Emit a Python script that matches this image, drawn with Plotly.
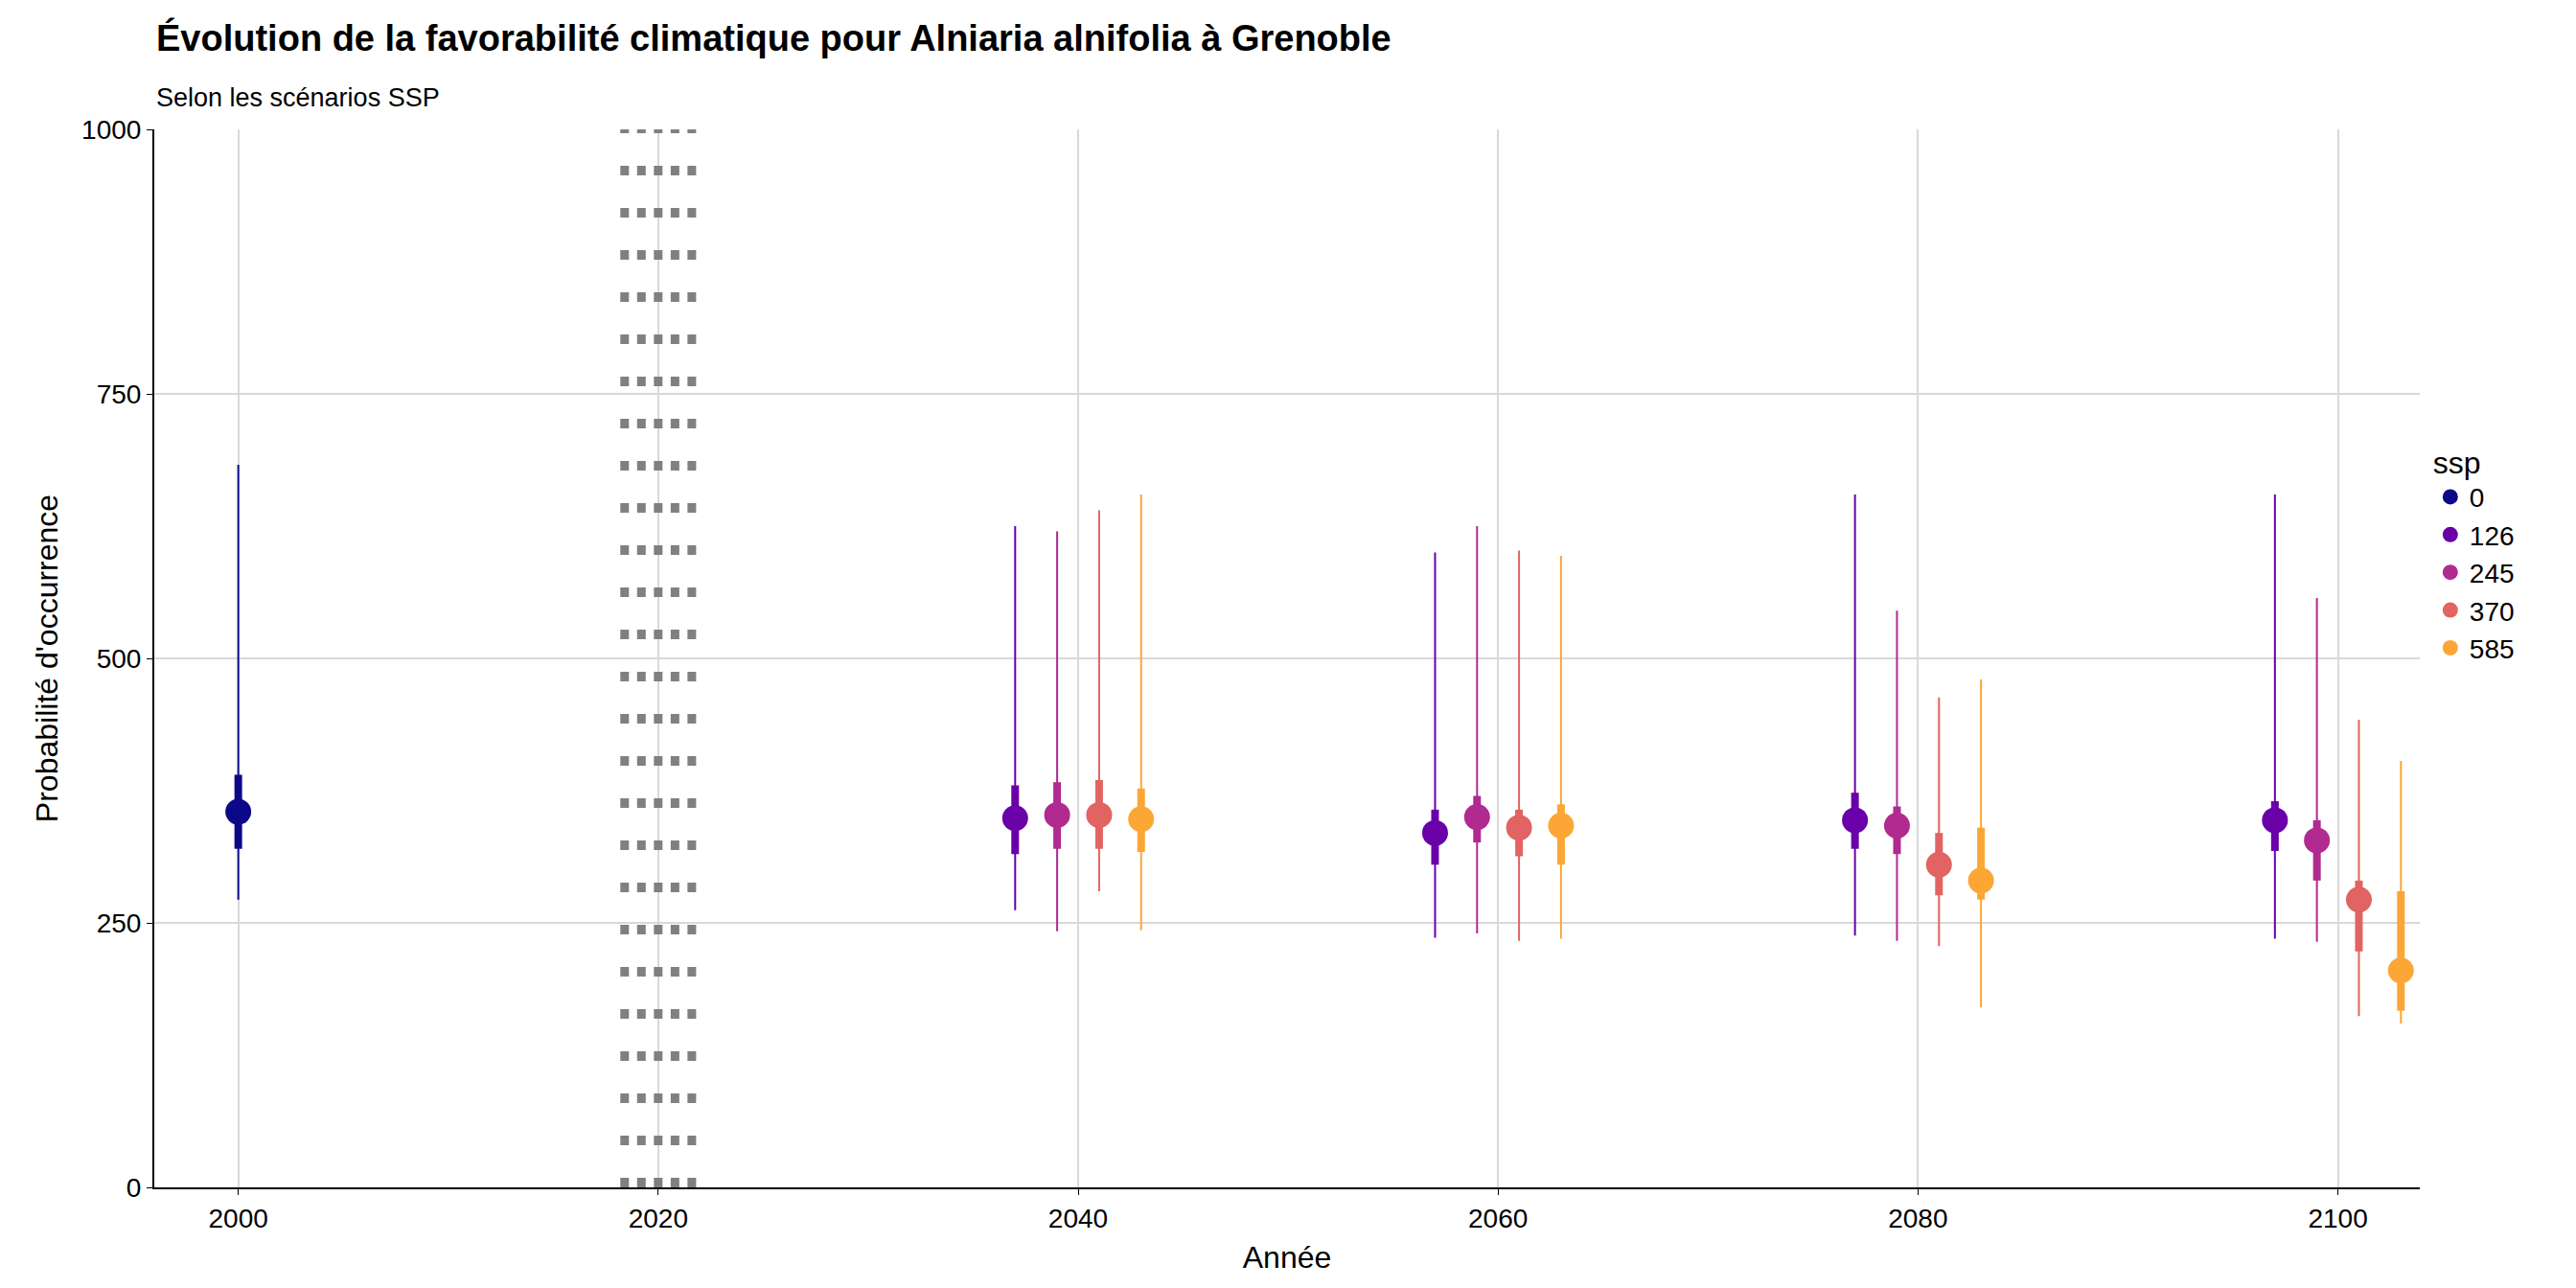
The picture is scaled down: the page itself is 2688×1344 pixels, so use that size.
import plotly.graph_objects as go

# scénarios et années
ssp_list = ["0", "126", "245", "370", "585"]
colors = ["#0D0887", "#6A00A8", "#B12A90", "#E16462", "#FCA636"]
years = {
    "0": [2000],
    "126": [2040, 2060, 2080, 2100],
    "245": [2040, 2060, 2080, 2100],
    "370": [2040, 2060, 2080, 2100],
    "585": [2040, 2060, 2080, 2100],
}
# décalage horizontal (dodge) par scénario
dodge = {"0": 0, "126": -3, "245": -1, "370": 1, "585": 3}

median = {
    "0": [355],
    "126": [349, 335, 347, 347],
    "245": [352, 350, 342, 328],
    "370": [352, 340, 305, 272],
    "585": [348, 342, 290, 205],
}
inner_lo = {
    "0": [320],
    "126": [315, 305, 320, 318],
    "245": [320, 326, 315, 290],
    "370": [320, 313, 276, 223],
    "585": [317, 305, 272, 167],
}
inner_hi = {
    "0": [390],
    "126": [380, 357, 373, 365],
    "245": [383, 370, 360, 347],
    "370": [385, 357, 335, 290],
    "585": [377, 362, 340, 280],
}
outer_lo = {
    "0": [272],
    "126": [262, 236, 238, 235],
    "245": [242, 240, 233, 232],
    "370": [280, 233, 228, 162],
    "585": [243, 235, 170, 155],
}
outer_hi = {
    "0": [683],
    "126": [625, 600, 655, 655],
    "245": [620, 625, 545, 557],
    "370": [640, 602, 463, 442],
    "585": [655, 597, 480, 403],
}

fig = go.Figure()

# ligne verticale pointillée autour de 2020
for xv in [2018.4, 2019.2, 2020, 2020.8, 2021.6]:
    fig.add_trace(go.Scatter(x=[xv, xv], y=[0, 1000], mode="lines",
                             line=dict(color="#808080", width=9, dash="10px,34px"),
                             showlegend=False, hoverinfo="skip"))

for ssp, col in zip(ssp_list, colors):
    xs = [y + dodge[ssp] for y in years[ssp]]
    med = median[ssp]
    fig.add_trace(go.Scatter(
        x=xs, y=med, mode="markers", marker=dict(size=1, color=col, opacity=0),
        error_y=dict(type="data", symmetric=False,
                     array=[h - m for h, m in zip(outer_hi[ssp], med)],
                     arrayminus=[m - l for m, l in zip(med, outer_lo[ssp])],
                     color=col, thickness=2, width=0),
        showlegend=False, hoverinfo="skip"))
    fig.add_trace(go.Scatter(
        x=xs, y=med, mode="markers", name=ssp,
        marker=dict(size=27, color=col),
        error_y=dict(type="data", symmetric=False,
                     array=[h - m for h, m in zip(inner_hi[ssp], med)],
                     arrayminus=[m - l for m, l in zip(med, inner_lo[ssp])],
                     color=col, thickness=8, width=0)))

fig.add_annotation(text="<b>Évolution de la favorabilité climatique pour Alniaria alnifolia à Grenoble</b>",
                   xref="paper", yref="paper", x=0, y=1, yshift=72, xanchor="left", yanchor="bottom",
                   showarrow=False, font=dict(size=38))
fig.add_annotation(text="Selon les scénarios SSP",
                   xref="paper", yref="paper", x=0, y=1, yshift=16, xanchor="left", yanchor="bottom",
                   showarrow=False, font=dict(size=27))

fig.update_layout(
    width=2688, height=1344,
    paper_bgcolor="white", plot_bgcolor="white",
    font=dict(family="Liberation Sans, Arial", size=28, color="black"),
    margin=dict(l=153, r=171, t=127, b=113),
    legend=dict(title=dict(text="ssp", font=dict(size=32)), x=1.005, y=0.6,
                yanchor="middle", font=dict(size=28), itemsizing="trace",
                tracegroupgap=8),
)
fig.update_xaxes(range=[1996, 2103.9], tickvals=[2000, 2020, 2040, 2060, 2080, 2100],
                 showgrid=True, gridcolor="#D9D9D9", gridwidth=2,
                 showline=True, linecolor="black", linewidth=2, ticks="outside",
                 ticklen=6, tickcolor="black", zeroline=False,
                 title=dict(text="Année", font=dict(size=32)))
fig.update_yaxes(range=[0, 1000], tickvals=[0, 250, 500, 750, 1000],
                 showgrid=True, gridcolor="#D9D9D9", gridwidth=2,
                 showline=True, linecolor="black", linewidth=2, ticks="outside",
                 ticklen=6, tickcolor="black", zeroline=False,
                 title=dict(text="Probabilité d'occurrence", font=dict(size=32)))

fig.write_html("out.html")
